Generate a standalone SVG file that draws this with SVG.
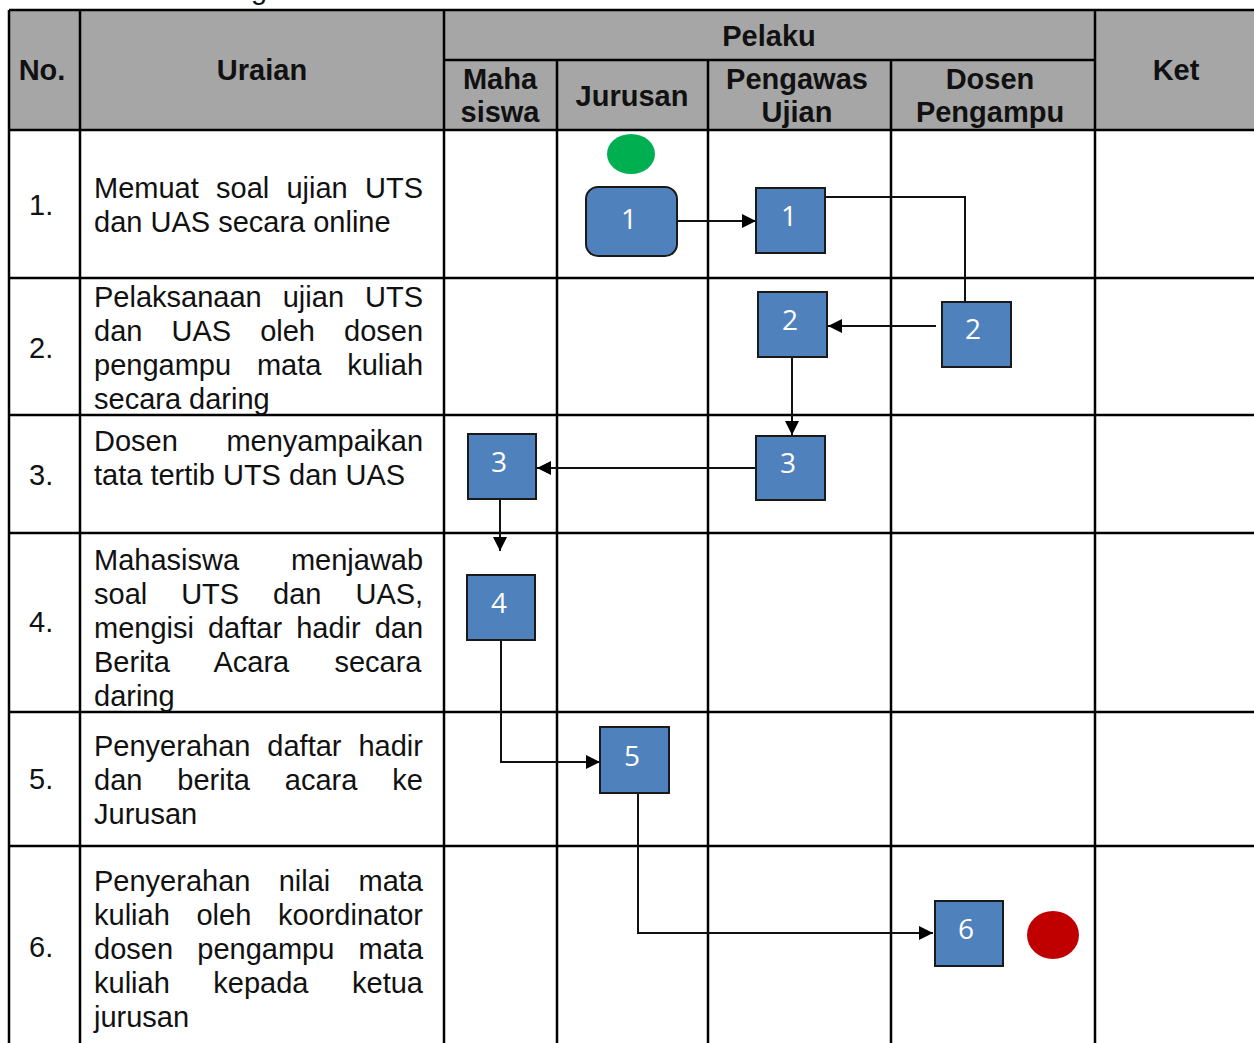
<svg xmlns="http://www.w3.org/2000/svg" width="1254" height="1043" viewBox="0 0 1254 1043">
<defs>
<style>
.grid{stroke:#000;stroke-width:2.5;fill:none}
.hdr{font-family:"Liberation Sans",Arial,sans-serif;font-size:29px;font-weight:bold;fill:#111;text-anchor:middle}
.txt{font-family:"Liberation Sans",Arial,sans-serif;font-size:29px;fill:#111}
.box{fill:#4f81bd;stroke:#1a1a1a;stroke-width:2}
.lbl{font-family:"Open Sans","Noto Sans",sans-serif;font-size:28px;fill:#fff;text-anchor:middle}
.con{stroke:#111;stroke-width:2;fill:none}
</style>
<marker id="arr" viewBox="0 0 10 10" refX="10" refY="5" markerWidth="7" markerHeight="7" markerUnits="userSpaceOnUse" orient="auto">
<path d="M0,0 L10,5 L0,10 z" fill="#000"/>
</marker>
<marker id="ah" viewBox="0 0 14 14" refX="14" refY="7" markerWidth="14" markerHeight="14" markerUnits="userSpaceOnUse" orient="auto">
<path d="M0,0 L14,7 L0,14 z" fill="#000"/>
</marker>
</defs>
<rect width="1254" height="1043" fill="#fff"/>
<text class="txt" x="251" y="-1">g</text>

<g id="table">
<rect x="9" y="10" width="1250" height="120" fill="#a6a6a6"/>
<line class="grid" x1="9" y1="10" x2="1254" y2="10"/>
<line class="grid" x1="444" y1="60" x2="1095" y2="60"/>
<line class="grid" x1="9" y1="130" x2="1254" y2="130"/>
<line class="grid" x1="9" y1="278" x2="1254" y2="278"/>
<line class="grid" x1="9" y1="415" x2="1254" y2="415"/>
<line class="grid" x1="9" y1="533" x2="1254" y2="533"/>
<line class="grid" x1="9" y1="712" x2="1254" y2="712"/>
<line class="grid" x1="9" y1="846" x2="1254" y2="846"/>
<line class="grid" x1="9" y1="10" x2="9" y2="1043"/>
<line class="grid" x1="80" y1="10" x2="80" y2="1043"/>
<line class="grid" x1="444" y1="10" x2="444" y2="1043"/>
<line class="grid" x1="557" y1="60" x2="557" y2="1043"/>
<line class="grid" x1="708" y1="60" x2="708" y2="1043"/>
<line class="grid" x1="891" y1="60" x2="891" y2="1043"/>
<line class="grid" x1="1095" y1="10" x2="1095" y2="1043"/>
<text class="hdr" x="42" y="80">No.</text>
<text class="hdr" x="262" y="80">Uraian</text>
<text class="hdr" x="769" y="46">Pelaku</text>
<text class="hdr" x="1176" y="80">Ket</text>
<text class="hdr" x="500" y="89">Maha</text>
<text class="hdr" x="500" y="122">siswa</text>
<text class="hdr" x="632" y="106">Jurusan</text>
<text class="hdr" x="797" y="89">Pengawas</text>
<text class="hdr" x="797" y="122">Ujian</text>
<text class="hdr" x="990" y="89">Dosen</text>
<text class="hdr" x="990" y="122">Pengampu</text>

<text class="txt" x="29" y="215">1.</text>
<text class="txt" x="29" y="358">2.</text>
<text class="txt" x="29" y="485">3.</text>
<text class="txt" x="29" y="632">4.</text>
<text class="txt" x="29" y="789">5.</text>
<text class="txt" x="29" y="957">6.</text>

<text class="txt" x="94" y="198" word-spacing="9.2">Memuat soal ujian UTS</text>
<text class="txt" x="94" y="232">dan UAS secara online</text>

<text class="txt" x="94" y="307" word-spacing="13">Pelaksanaan ujian UTS</text>
<text class="txt" x="94" y="341" word-spacing="21">dan UAS oleh dosen</text>
<text class="txt" x="94" y="375" word-spacing="17.8">pengampu mata kuliah</text>
<text class="txt" x="94" y="409">secara daring</text>

<text class="txt" x="94" y="451" word-spacing="40.5">Dosen menyampaikan</text>
<text class="txt" x="94" y="485">tata tertib UTS dan UAS</text>

<text class="txt" x="94" y="570" word-spacing="43.8">Mahasiswa menjawab</text>
<text class="txt" x="94" y="604" word-spacing="25.9">soal UTS dan UAS,</text>
<text class="txt" x="94" y="638" word-spacing="6">mengisi daftar hadir dan</text>
<text class="txt" x="94" y="672" word-spacing="37.2">Berita Acara secara</text>
<text class="txt" x="94" y="706">daring</text>

<text class="txt" x="94" y="756" word-spacing="8.9">Penyerahan daftar hadir</text>
<text class="txt" x="94" y="790" word-spacing="26.9">dan berita acara ke</text>
<text class="txt" x="94" y="824">Jurusan</text>

<text class="txt" x="94" y="891" word-spacing="20.2">Penyerahan nilai mata</text>
<text class="txt" x="94" y="925" word-spacing="18.6">kuliah oleh koordinator</text>
<text class="txt" x="94" y="959" word-spacing="16.2">dosen pengampu mata</text>
<text class="txt" x="94" y="993" word-spacing="35.5">kuliah kepada ketua</text>
<text class="txt" x="94" y="1027">jurusan</text>
</g>

<g id="connectors">
<line class="con" x1="677" y1="221" x2="756" y2="221" marker-end="url(#ah)"/>
<polyline class="con" points="825,197 965,197 965,301"/>
<line class="con" x1="936" y1="326" x2="828" y2="326" marker-end="url(#ah)"/>
<line class="con" x1="792" y1="357" x2="792" y2="435" marker-end="url(#ah)"/>
<line class="con" x1="756" y1="468" x2="537" y2="468" marker-end="url(#ah)"/>
<line class="con" x1="500" y1="499" x2="500" y2="551" marker-end="url(#ah)"/>
<polyline class="con" points="501,640 501,762 600,762" marker-end="url(#ah)"/>
<polyline class="con" points="638,793 638,933 933,933" marker-end="url(#ah)"/>
</g>

<g id="start"><ellipse cx="631" cy="154" rx="24" ry="20" fill="#00b050"/></g>
<g id="n1a"><rect class="box" x="586" y="187" width="91" height="69" rx="12"/><text class="lbl" x="629" y="229">1</text></g>
<g id="n1b"><rect class="box" x="756" y="188" width="69" height="65"/><text class="lbl" x="789" y="226">1</text></g>
<g id="n2a"><rect class="box" x="758" y="292" width="69" height="65"/><text class="lbl" x="790" y="330">2</text></g>
<g id="n2b"><rect class="box" x="942" y="302" width="69" height="65"/><text class="lbl" x="973" y="339">2</text></g>
<g id="n3a"><rect class="box" x="756" y="436" width="69" height="64"/><text class="lbl" x="788" y="473">3</text></g>
<g id="n3b"><rect class="box" x="468" y="434" width="68" height="65"/><text class="lbl" x="499" y="472">3</text></g>
<g id="n4"><rect class="box" x="467" y="575" width="68" height="65"/><text class="lbl" x="499" y="613">4</text></g>
<g id="n5"><rect class="box" x="600" y="727" width="69" height="66"/><text class="lbl" x="632" y="766">5</text></g>
<g id="n6"><rect class="box" x="935" y="901" width="68" height="65"/><text class="lbl" x="966" y="939">6</text></g>
<g id="end"><ellipse cx="1053" cy="935" rx="26" ry="24" fill="#c00000"/></g>
</svg>
